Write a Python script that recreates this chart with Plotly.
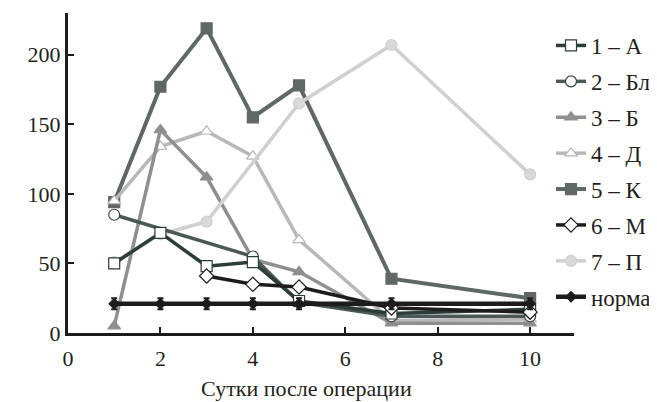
import plotly.graph_objects as go

# ---- data ----
days_A = [1, 2, 3, 4, 5, 7, 10]
vals_A = [50, 72, 48, 51, 23, 14, 17]

days_Bl = [1, 4, 5, 7, 10]
vals_Bl = [85, 55, 22, 12, 12]

days_B = [1, 2, 3, 4, 5, 7, 10]
vals_B = [5, 146, 112, 53, 44, 7, 7]

days_D = [1, 2, 3, 4, 5, 7, 10]
vals_D = [95, 134, 145, 127, 67, 9, 10]

days_K = [1, 2, 3, 4, 5, 7, 10]
vals_K = [94, 177, 219, 155, 178, 39, 25]

days_M = [3, 4, 5, 7, 10]
vals_M = [41, 35, 33, 18, 15]

days_P = [1, 2, 3, 5, 7, 10]
vals_P = [51, 71, 80, 165, 207, 114]

days_N = [1, 2, 3, 4, 5, 7, 10]
vals_N = [21, 21, 21, 21, 21, 21, 21]
err_N = [4, 4, 4, 4, 4, 4, 4]

names = ["1 – А", "2 – Бл", "3 – Б", "4 – Д", "5 – К", "6 – М", "7 – П", "норма"]
x_title = "Сутки после операции"

FONT = "Liberation Serif"
TXT = "#231f20"
W, H = 649, 394

fig = go.Figure()

def add(x, y, name, rank, color, symbol, mcolor, mline, lw=3.5, size=11, err=None):
    fig.add_trace(go.Scatter(
        x=x, y=y, name=name, legendrank=rank, legendgroup=name,
        mode="lines+markers",
        line=dict(color=color, width=lw),
        marker=dict(symbol=symbol, size=size, color=mcolor,
                    line=dict(color=mline, width=1.2)),
        error_y=None if err is None else dict(type="data", array=err,
                                               color=color, thickness=2, width=3),
    ))

add(days_K, vals_K, names[4], 5, "#5f6767", "square", "#5f6767", "#5f6767", lw=4)
add(days_D, vals_D, names[3], 4, "#b8b8b8", "triangle-up", "#ffffff", "#b8b8b8")
add(days_B, vals_B, names[2], 3, "#8f8f8f", "triangle-up", "#8f8f8f", "#8f8f8f")
add(days_P, vals_P, names[6], 7, "#d0d0d0", "circle", "#d9d9d9", "#cfcfcf")
add(days_Bl, vals_Bl, names[1], 2, "#4b5856", "circle", "#ffffff", "#3a4644")
add(days_A, vals_A, names[0], 1, "#2c3c39", "square", "#ffffff", "#2c3c39")
add(days_M, vals_M, names[5], 6, "#1e1b1c", "diamond", "#ffffff", "#1e1b1c")
add(days_N, vals_N, names[7], 8, "#1e1b1c", "diamond", "#1e1b1c", "#1e1b1c", lw=4.5, size=8, err=err_N)

fig.update_layout(
    width=W, height=H,
    margin=dict(l=60, r=W - 566, t=5, b=H - 325, autoexpand=False),
    paper_bgcolor="white", plot_bgcolor="white",
    font=dict(family=FONT, size=22, color=TXT),
    showlegend=True,
    legend=dict(xref="container", yref="container",
                x=543 / W, y=1 - 16 / H, xanchor="left", yanchor="top",
                font=dict(family=FONT, size=23, color=TXT),
                tracegroupgap=3, bgcolor="rgba(0,0,0,0)",
                itemwidth=30, maxheight=380),
    xaxis=dict(range=[0, 10.95], tickvals=[0, 2, 4, 6, 8, 10],
               showgrid=False, zeroline=False, automargin=False,
               showline=True, linecolor="#1e1b1c", linewidth=3,
               ticks="inside", ticklen=6, tickwidth=2, tickcolor="#1e1b1c",
               ticklabelstandoff=4,
               tickfont=dict(size=22)),
    yaxis=dict(range=[0, 230], tickvals=[0, 50, 100, 150, 200],
               showgrid=False, zeroline=False, automargin=False,
               showline=True, linecolor="#1e1b1c", linewidth=3,
               ticks="inside", ticklen=6, tickwidth=2, tickcolor="#1e1b1c",
               tickfont=dict(size=22)),
    annotations=[dict(text=x_title, xref="paper", yref="paper",
                      x=0.472, y=-0.172, xanchor="center", yanchor="middle",
                      showarrow=False, font=dict(family=FONT, size=22, color=TXT))],
)

fig.write_html("out.html")
